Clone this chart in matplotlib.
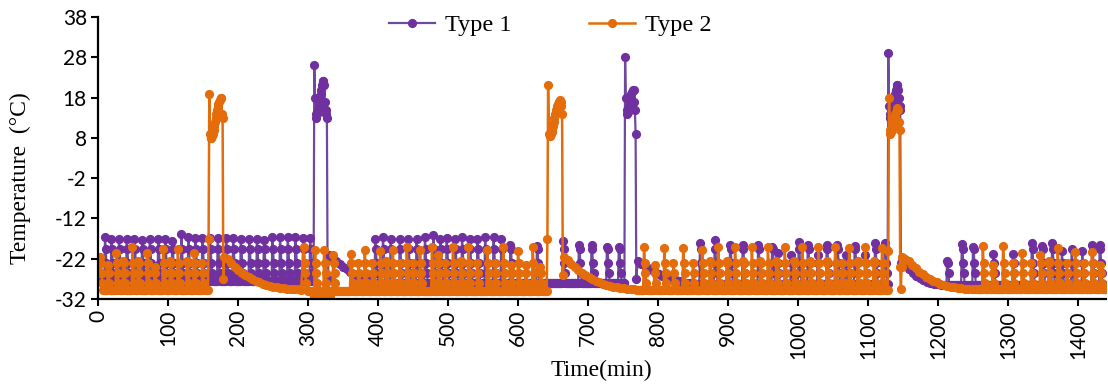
import numpy as np
import matplotlib
matplotlib.use('Agg')
import matplotlib.pyplot as plt

# ---- values (time in min, temperature in degC) ----

# Type 1
type1_base = [(0, 308, -27.5), (391, 752, -28.0), (853, 1128, -28.3), (1211, 1440, -28.5)]
type1_spike_t = [10, 19, 30, 41, 52, 63, 74, 86, 96, 106, 119, 129, 139, 149, 160, 171, 183, 193,
                 204, 216, 227, 237, 249, 260, 271, 282, 293, 303,
                 396, 407, 418, 431, 443, 455, 467, 479, 489, 498, 510, 520, 531, 542, 553, 565, 576, 589,
                 627, 664, 687, 705, 727, 744,
                 860, 881, 903, 921, 943, 963, 971, 990, 1001, 1014, 1028, 1041, 1056, 1068, 1081, 1096,
                 1110, 1124,
                 1213, 1234, 1250, 1279, 1307, 1334, 1349, 1363, 1377, 1391, 1406, 1420, 1431]
type1_spike_peak = [-16.5, -17, -17, -17, -17, -17.3, -17, -17, -17, -17.5, -15.8, -16.5, -16.8, -16.8, -16.8,
                    -16.8, -16.8, -16.8, -17, -17, -17, -17.3, -16.5, -16.5, -16.5, -16.5, -16.8, -16.8,
                    -17, -16.5, -17, -17, -17, -17, -16.5, -16, -17, -16.8, -17, -16.5, -17, -17, -16.5,
                    -16.5, -17, -18.5,
                    -18.8, -17.5, -18.6, -18.6, -19, -19,
                    -18.2, -17.3, -18.5, -18.5, -18.5, -19, -20.5, -21, -17.8, -18.5, -21, -18.5, -18.5,
                    -21, -18.8, -21, -18.2, -18.2,
                    -22.5, -18.4, -19, -20.8, -20.8, -18, -18.8, -18.2, -20, -19.5, -20, -18.5, -18.5]
type1_tail = [-19.5, -23.0, -25.5]
type1_defrost_start = [309, 753, 1129]
type1_defrost = [
    [26, 18, 14, 13, 14, 15, 16, 17, 18, 19, 20, 21, 22, 22, 21, 17, 15, 14, 13, -27],
    [28, 18, 15, 14, 14.5, 15, 16, 17, 18, 19, 19.5, 20, 20, 17, 15, 9, -27],
    [29, 16, 14, 13, 13.5, 14, 15, 16, 17, 18, 19, 20, 21, 21, 20, 18, 16, 15, -23],
]
type1_decay_start = [330, 771, 1149]
type1_decay = [
    [-21, -21.8, -22.6, -23.3, -24, -24.6, -25.2, -25.8, -26.3, -26.7, -27.1, -27.4, -27.6],
    [-22.5, -23.2, -23.8, -24.4, -24.9, -25.3, -25.8, -26.2, -26.5, -26.8, -27.1, -27.4, -27.6,
     -27.8, -28, -28.1, -28.2],
    [-22.5, -23.5, -24.6, -25.5, -26.3, -26.9, -27.4, -27.8, -28.1, -28.3, -28.4, -28.5, -28.5],
]

# Type 2
type2_base = [(0, 157, -29.8), (300, 641, -30.0), (770, 1128, -29.8), (1256, 1440, -29.6)]
type2_spike_t = [0, 3, 26, 49, 70, 93, 114, 137,
                 294, 310, 323, 336, 361, 381, 403, 421, 441, 460, 477, 486, 507, 529, 556, 579, 600, 621,
                 780, 809, 836, 863, 886, 910, 934, 957, 981, 1006, 1029, 1053, 1073, 1096, 1120,
                 1264, 1293, 1320, 1346, 1371, 1396, 1420]
type2_spike_peak = [-22, -21.5, -20.5, -19, -20.5, -19.5, -19.5, -20.5,
                    -19, -19.8, -19.8, -21, -20.8, -19.8, -20, -19.8, -19, -19.8, -19, -21, -19, -19,
                    -19.8, -19, -20, -19,
                    -19, -19.3, -19.3, -19.8, -19, -19, -19, -19, -19, -19, -19, -19, -19.3, -19, -19.3,
                    -18.8, -18.8, -20.7, -21, -19.3, -20.3, -20.3]
type2_small_t = [14, 36, 57, 81, 103, 127, 149,
                 372, 392, 412, 431, 450, 496, 518, 542, 567, 590, 611, 632,
                 795, 822, 850, 874, 898, 922, 946, 969, 994, 1017, 1041, 1063, 1085, 1108,
                 1278, 1307, 1333, 1358, 1384, 1408, 1432]
type2_small_peak = [-23.5, -22.5, -22.5, -24, -22.5, -22.5, -23,
                    -23, -23, -22.5, -23, -23, -23, -22.5, -23, -23, -23.5, -23.5, -24,
                    -23.5, -23, -23, -22.5, -22.5, -22.5, -22.5, -22.5, -22.5, -22.5, -22.5, -23, -22.5,
                    -22.5,
                    -23.5, -23, -23, -22.5, -23, -23, -23.5]
type2_tail = [-23.0, -25.5, -28.0]
type2_dip_t = [308, 314, 319, 325, 331, 337]
type2_dip_v = [-31.3, -31.8, -31.5, -31.8, -31.5, -31.2]
type2_defrost_start = [158, 642, 1129]
type2_defrost = [
    [-17, 19, 9, 8, 8, 8.5, 9, 10, 11, 12, 13, 14, 15, 16, 16.5, 17, 17.5, 18, 18, 14, 13, -27],
    [-17, 21, 9, 8.5, 8.5, 9, 9.5, 10, 11, 12, 13, 14, 15, 15.5, 16, 16.5, 17, 17, 17.5, 17, 16, 14, -26],
    [-20, 18, 10, 9, 9.5, 10, 11, 12, 13, 13.5, 14, 14.5, 15, 15.5, 15, 12, 10, -24, -29.5, -24, -21.5],
]
type2_decay_start = [180, 666, 1153]
type2_decay = [
    [-21.5, -22, -23, -24, -24.8, -25.5, -26.1, -26.6, -27.1, -27.5, -27.9, -28.2, -28.5, -28.7,
     -28.9, -29.1, -29.2, -29.3, -29.4, -29.5, -29.5, -29.6, -29.7, -29.8],
    [-21.5, -22.3, -23.2, -24, -24.8, -25.5, -26.1, -26.6, -27.1, -27.5, -27.9, -28.2, -28.5,
     -28.7, -28.9, -29.1, -29.2, -29.3, -29.4, -29.5, -29.6],
    [-22, -22.6, -23.5, -24.4, -25.2, -25.9, -26.5, -27, -27.5, -27.9, -28.2, -28.5, -28.7, -28.9,
     -29.1, -29.2, -29.3, -29.4, -29.5, -29.5, -29.6],
]
decay_step = 5  # decay readings were taken every 5 min

x_ticks = list(range(0, 1401, 100))
y_ticks = [-32, -22, -12, -2, 8, 18, 28, 38]


def build_series(base, spike_t, spike_peak, tail, defrost_start, defrost,
                 decay_start, decay, extra_t=(), extra_v=()):
    pts = {}
    for a, b, v in base:
        for t in range(a, b + 1):
            pts[t] = v
    for t0, vals in zip(decay_start, decay):
        for i, v in enumerate(vals):
            pts[t0 + i * decay_step] = v
    for t, v in zip(extra_t, extra_v):
        pts[t] = v
    for t0, p in zip(spike_t, spike_peak):
        pts[t0] = p
        for j, v in enumerate([x for x in tail if x < p]):
            pts[t0 + 1 + j] = v
    for t0, vals in zip(defrost_start, defrost):
        for i, v in enumerate(vals):
            pts[t0 + i] = v
    ts = sorted(pts)
    return np.array(ts), np.array([pts[t] for t in ts])


t1, v1 = build_series(type1_base, type1_spike_t, type1_spike_peak, type1_tail,
                      type1_defrost_start, type1_defrost, type1_decay_start, type1_decay)
t2, v2 = build_series(type2_base, type2_spike_t + type2_small_t, type2_spike_peak + type2_small_peak,
                      type2_tail, type2_defrost_start, type2_defrost, type2_decay_start, type2_decay,
                      type2_dip_t, type2_dip_v)

fig = plt.figure(figsize=(11.08, 3.85), dpi=100)
ax = fig.add_axes([98 / 1108, 86 / 385, 1008 / 1108, 282 / 385])

ax.plot(t1, v1, color='#6E4A9E', lw=1.6, marker='o', ms=5.6,
        mfc='#7030A0', mec='#7030A0', label='Type 1')
ax.plot(t2, v2, color='#E46C0A', lw=1.8, marker='o', ms=5.6,
        mfc='#E46C0A', mec='#E46C0A', label='Type 2')

ax.set_xlim(0, 1440)
ax.set_ylim(-32, 38)
ax.set_xticks(x_ticks)
ax.set_yticks(y_ticks)
ax.set_xticklabels([str(x) for x in x_ticks], rotation=90, fontsize=15, family='Lato')
ax.set_yticklabels([str(y) for y in y_ticks], fontsize=15, family='Lato')
ax.tick_params(direction='out', length=5, width=1.5, color='black', pad=3)
for s in ['top', 'right']:
    ax.spines[s].set_visible(False)
for s in ['left', 'bottom']:
    ax.spines[s].set_linewidth(1.6)
    ax.spines[s].set_color('black')

fig.text(20 / 1108, 1 - 178 / 385, 'Temperature  (\u00b0C)', rotation=90, ha='center', va='center',
         fontsize=17, family='Liberation Serif')
fig.text(601 / 1108, 1 - 370 / 385, 'Time(min)', ha='center', va='center',
         fontsize=17, family='Liberation Serif')

fig.legend(loc='center', bbox_to_anchor=(550 / 1108, 1 - 25 / 385), ncol=2, frameon=False,
           prop={'family': 'Liberation Serif', 'size': 17.5}, handlelength=1.9,
           columnspacing=3.2, handletextpad=0.4, borderaxespad=0)

fig.savefig('out.png', dpi=100)
